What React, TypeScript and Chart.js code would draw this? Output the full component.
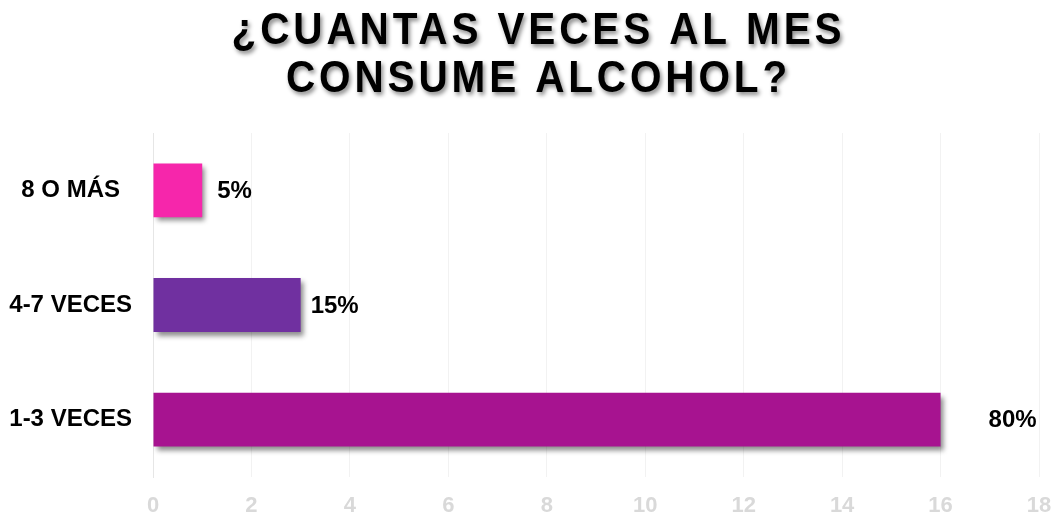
import React, { useEffect, useRef } from "react";
import { Chart, registerables } from "chart.js";

Chart.register(...registerables);

const titleLines = ["¿CUANTAS VECES AL MES", "CONSUME ALCOHOL?"];
const categories = ["8 O MÁS", "4-7 VECES", "1-3 VECES"];
const values = [1, 3, 16];
const percentLabels = ["5%", "15%", "80%"];
const barColors = ["#F626AB", "#7030A0", "#A71390"];
const xTicksMin = 0;
const xTicksMax = 18;
const xTickStep = 2;

const FONT = "'Liberation Sans', Arial, sans-serif";
const labelGaps = [15, 10, 48];

const titlePlugin = {
  id: "customTitle",
  afterDraw(chart: any) {
    const ctx = chart.ctx;
    const sx = 0.9;
    ctx.save();
    ctx.scale(sx, 1);
    ctx.font = `bold 45px ${FONT}`;
    (ctx as any).letterSpacing = "4.3px";
    ctx.textAlign = "center";
    ctx.textBaseline = "middle";
    ctx.fillStyle = "#000";
    ctx.shadowColor = "rgba(0,0,0,0.45)";
    ctx.shadowBlur = 4;
    ctx.shadowOffsetX = 2;
    ctx.shadowOffsetY = 3;
    const cx = (chart.width / 2 + 10) / sx;
    titleLines.forEach((line, i) => {
      ctx.fillText(line, cx, 32 + i * 48);
    });
    ctx.restore();
  },
};

const shadowPlugin = {
  id: "barShadow",
  beforeDatasetsDraw(chart: any) {
    const ctx = chart.ctx;
    ctx.save();
    ctx.shadowColor = "rgba(0,0,0,0.45)";
    ctx.shadowBlur = 5;
    ctx.shadowOffsetX = 3;
    ctx.shadowOffsetY = 4;
  },
  afterDatasetsDraw(chart: any) {
    chart.ctx.restore();
  },
};

const valueLabelPlugin = {
  id: "valueLabels",
  afterDatasetsDraw(chart: any) {
    const ctx = chart.ctx;
    const meta = chart.getDatasetMeta(0);
    ctx.save();
    ctx.font = `bold 24px ${FONT}`;
    ctx.fillStyle = "#000";
    ctx.textAlign = "left";
    ctx.textBaseline = "middle";
    meta.data.forEach((bar: any, i: number) => {
      ctx.fillText(percentLabels[i], bar.x + labelGaps[i], bar.y + 1);
    });
    ctx.restore();
  },
};

export default function App() {
  const canvasRef = useRef<HTMLCanvasElement | null>(null);

  useEffect(() => {
    if (!canvasRef.current) return;
    const chart = new Chart(canvasRef.current, {
      type: "bar",
      data: {
        labels: categories,
        datasets: [
          {
            data: values,
            backgroundColor: barColors,
            borderWidth: 0,
            categoryPercentage: 1,
            barPercentage: 0.47,
          },
        ],
      },
      options: {
        indexAxis: "y",
        animation: false,
        responsive: true,
        maintainAspectRatio: false,
        layout: { padding: { top: 133, right: 18, left: 0, bottom: 0 } },
        plugins: {
          legend: { display: false },
          title: { display: false },
          tooltip: { enabled: false },
        },
        scales: {
          x: {
            min: xTicksMin,
            max: xTicksMax,
            ticks: {
              stepSize: xTickStep,
              color: "#d9d9d9",
              font: { family: FONT, size: 22, weight: "bold" },
              padding: 16,
            },
            grid: { color: "#f2f2f2", drawTicks: false, lineWidth: 1 },
            border: { display: false },
            afterFit(scale: any) {
              scale.height = 41;
              scale.paddingLeft = 0;
              scale.paddingRight = 0;
            },
          },
          y: {
            ticks: {
              color: "#000",
              font: { family: FONT, size: 24, weight: "bold" },
              crossAlign: "center",
              padding: 21,
            },
            grid: { display: false, drawTicks: false },
            border: { display: true, color: "#e6e6e6" },
            afterFit(scale: any) {
              scale.width = 153;
            },
          },
        },
      },
      plugins: [shadowPlugin, valueLabelPlugin, titlePlugin],
    } as any);
    return () => chart.destroy();
  }, []);

  return (
    <div
      style={{
        position: "absolute",
        left: 0,
        top: 0,
        width: 1057,
        height: 518,
        overflow: "hidden",
        background: "#fff",
      }}
    >
      <canvas ref={canvasRef} style={{ display: "block" }} />
    </div>
  );
}
